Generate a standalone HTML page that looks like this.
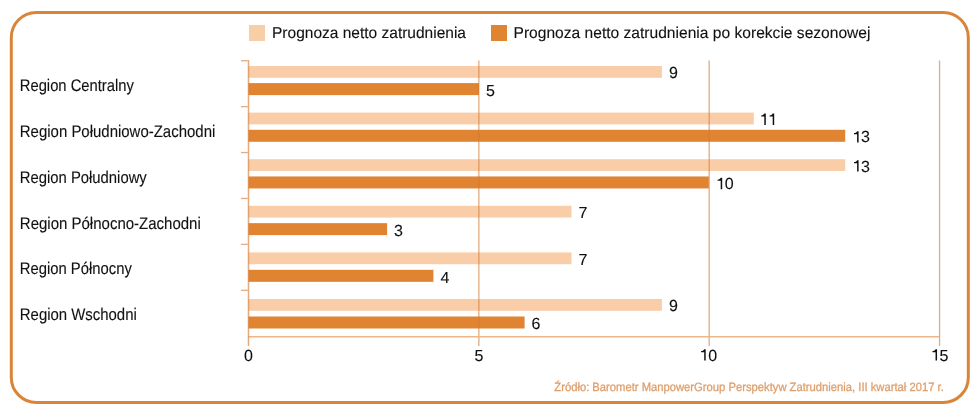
<!DOCTYPE html><html><head><meta charset="utf-8"><style>html,body{margin:0;padding:0;background:#fff;width:980px;height:417px;overflow:hidden}svg{display:block;will-change:transform}text{font-family:"Liberation Sans", sans-serif;stroke:currentColor;stroke-width:0.12px;text-rendering:geometricPrecision}</style></head><body>
<svg width="980" height="417" viewBox="0 0 980 417">
<rect x="11.3" y="12.4" width="957" height="390" rx="25" ry="25" fill="none" stroke="#DA8438" stroke-width="3"/>
<rect x="249" y="25" width="16" height="16" fill="#FACDA9"/>
<text x="272.00" y="38.00" font-size="15.75" fill="#111" color="#111" textLength="194.00" lengthAdjust="spacingAndGlyphs">Prognoza netto zatrudnienia</text>
<rect x="491" y="25" width="16" height="16" fill="#E08432"/>
<text x="513.50" y="38.00" font-size="15.75" fill="#111" color="#111" textLength="357.00" lengthAdjust="spacingAndGlyphs">Prognoza netto zatrudnienia po korekcie sezonowej</text>
<rect x="248.5" y="66.00" width="413.40" height="11.8" fill="#FACDA9"/>
<rect x="248.5" y="83.10" width="230.50" height="12" fill="#E08432"/>
<rect x="248.5" y="112.60" width="505.30" height="11.8" fill="#FACDA9"/>
<rect x="248.5" y="129.78" width="596.70" height="12" fill="#E08432"/>
<rect x="248.5" y="159.20" width="596.70" height="11.8" fill="#FACDA9"/>
<rect x="248.5" y="176.46" width="460.30" height="12" fill="#E08432"/>
<rect x="248.5" y="205.80" width="323.00" height="11.8" fill="#FACDA9"/>
<rect x="248.5" y="223.14" width="138.60" height="12" fill="#E08432"/>
<rect x="248.5" y="252.40" width="323.00" height="11.8" fill="#FACDA9"/>
<rect x="248.5" y="269.82" width="184.90" height="12" fill="#E08432"/>
<rect x="248.5" y="299.00" width="413.40" height="11.8" fill="#FACDA9"/>
<rect x="248.5" y="316.50" width="276.10" height="12" fill="#E08432"/>
<line x1="478.85" y1="60.5" x2="478.85" y2="346" stroke="#D27830" stroke-opacity="0.62" stroke-width="1.3"/>
<line x1="709.20" y1="60.5" x2="709.20" y2="346" stroke="#D27830" stroke-opacity="0.62" stroke-width="1.3"/>
<line x1="939.55" y1="60.5" x2="939.55" y2="346" stroke="#D27830" stroke-opacity="0.62" stroke-width="1.3"/>
<line x1="248.5" y1="336.8" x2="939.55" y2="336.8" stroke="#EAB68A" stroke-width="1.5"/>
<line x1="248.5" y1="60" x2="248.5" y2="346" stroke="#D27830" stroke-opacity="0.62" stroke-width="1.5"/>
<line x1="241" y1="60.70" x2="247.75" y2="60.70" stroke="#D27830" stroke-opacity="0.62" stroke-width="1.3"/>
<line x1="241" y1="106.62" x2="247.75" y2="106.62" stroke="#D27830" stroke-opacity="0.62" stroke-width="1.3"/>
<line x1="241" y1="152.54" x2="247.75" y2="152.54" stroke="#D27830" stroke-opacity="0.62" stroke-width="1.3"/>
<line x1="241" y1="198.46" x2="247.75" y2="198.46" stroke="#D27830" stroke-opacity="0.62" stroke-width="1.3"/>
<line x1="241" y1="244.38" x2="247.75" y2="244.38" stroke="#D27830" stroke-opacity="0.62" stroke-width="1.3"/>
<line x1="241" y1="290.30" x2="247.75" y2="290.30" stroke="#D27830" stroke-opacity="0.62" stroke-width="1.3"/>
<text x="668.90" y="78.30" font-size="16" fill="#111" color="#111">9</text>
<text x="486.00" y="95.80" font-size="16" fill="#111" color="#111">5</text>
<path transform="translate(759.40,124.90)" d="M6.4,-11.3 L6.4,0 L4.9,0 L4.9,-8.3 L1.8,-8.3 L1.8,-9.5 C3.5,-9.6 4.5,-10.2 4.9,-11.3 Z" fill="#111"/><path transform="translate(767.80,124.90)" d="M6.4,-11.3 L6.4,0 L4.9,0 L4.9,-8.3 L1.8,-8.3 L1.8,-9.5 C3.5,-9.6 4.5,-10.2 4.9,-11.3 Z" fill="#111"/>
<path transform="translate(852.20,142.48)" d="M6.4,-11.3 L6.4,0 L4.9,0 L4.9,-8.3 L1.8,-8.3 L1.8,-9.5 C3.5,-9.6 4.5,-10.2 4.9,-11.3 Z" fill="#111"/><text x="861.10" y="142.48" font-size="16" fill="#111" color="#111">3</text>
<path transform="translate(852.20,171.50)" d="M6.4,-11.3 L6.4,0 L4.9,0 L4.9,-8.3 L1.8,-8.3 L1.8,-9.5 C3.5,-9.6 4.5,-10.2 4.9,-11.3 Z" fill="#111"/><text x="861.10" y="171.50" font-size="16" fill="#111" color="#111">3</text>
<path transform="translate(715.80,189.16)" d="M6.4,-11.3 L6.4,0 L4.9,0 L4.9,-8.3 L1.8,-8.3 L1.8,-9.5 C3.5,-9.6 4.5,-10.2 4.9,-11.3 Z" fill="#111"/><text x="724.70" y="189.16" font-size="16" fill="#111" color="#111">0</text>
<text x="578.50" y="218.10" font-size="16" fill="#111" color="#111">7</text>
<text x="394.10" y="235.84" font-size="16" fill="#111" color="#111">3</text>
<text x="578.50" y="264.70" font-size="16" fill="#111" color="#111">7</text>
<text x="440.40" y="282.52" font-size="16" fill="#111" color="#111">4</text>
<text x="668.90" y="311.30" font-size="16" fill="#111" color="#111">9</text>
<text x="531.60" y="329.20" font-size="16" fill="#111" color="#111">6</text>
<text x="19.80" y="90.70" font-size="16.75" fill="#111" color="#111" textLength="114.00" lengthAdjust="spacingAndGlyphs">Region Centralny</text>
<text x="19.80" y="137.00" font-size="16.75" fill="#111" color="#111" textLength="195.50" lengthAdjust="spacingAndGlyphs">Region Południowo-Zachodni</text>
<text x="19.80" y="182.80" font-size="16.75" fill="#111" color="#111" textLength="127.00" lengthAdjust="spacingAndGlyphs">Region Południowy</text>
<text x="19.80" y="228.70" font-size="16.75" fill="#111" color="#111" textLength="181.00" lengthAdjust="spacingAndGlyphs">Region Północno-Zachodni</text>
<text x="19.80" y="273.70" font-size="16.75" fill="#111" color="#111" textLength="112.00" lengthAdjust="spacingAndGlyphs">Region Północny</text>
<text x="19.80" y="319.70" font-size="16.75" fill="#111" color="#111" textLength="117.00" lengthAdjust="spacingAndGlyphs">Region Wschodni</text>
<text x="244.05" y="360.50" font-size="16" fill="#111" color="#111">0</text>
<text x="474.40" y="360.50" font-size="16" fill="#111" color="#111">5</text>
<path transform="translate(699.30,360.50)" d="M6.4,-11.3 L6.4,0 L4.9,0 L4.9,-8.3 L1.8,-8.3 L1.8,-9.5 C3.5,-9.6 4.5,-10.2 4.9,-11.3 Z" fill="#111"/><text x="708.20" y="360.50" font-size="16" fill="#111" color="#111">0</text>
<path transform="translate(930.65,360.50)" d="M6.4,-11.3 L6.4,0 L4.9,0 L4.9,-8.3 L1.8,-8.3 L1.8,-9.5 C3.5,-9.6 4.5,-10.2 4.9,-11.3 Z" fill="#111"/><text x="939.55" y="360.50" font-size="16" fill="#111" color="#111">5</text>
<text style="stroke-width:0.3px" x="554.30" y="390.50" font-size="12" fill="#DE9F6C" color="#DE9F6C" textLength="389.50" lengthAdjust="spacingAndGlyphs">Źródło: Barometr ManpowerGroup Perspektyw Zatrudnienia, III kwartał 2017 r.</text>
</svg></body></html>
